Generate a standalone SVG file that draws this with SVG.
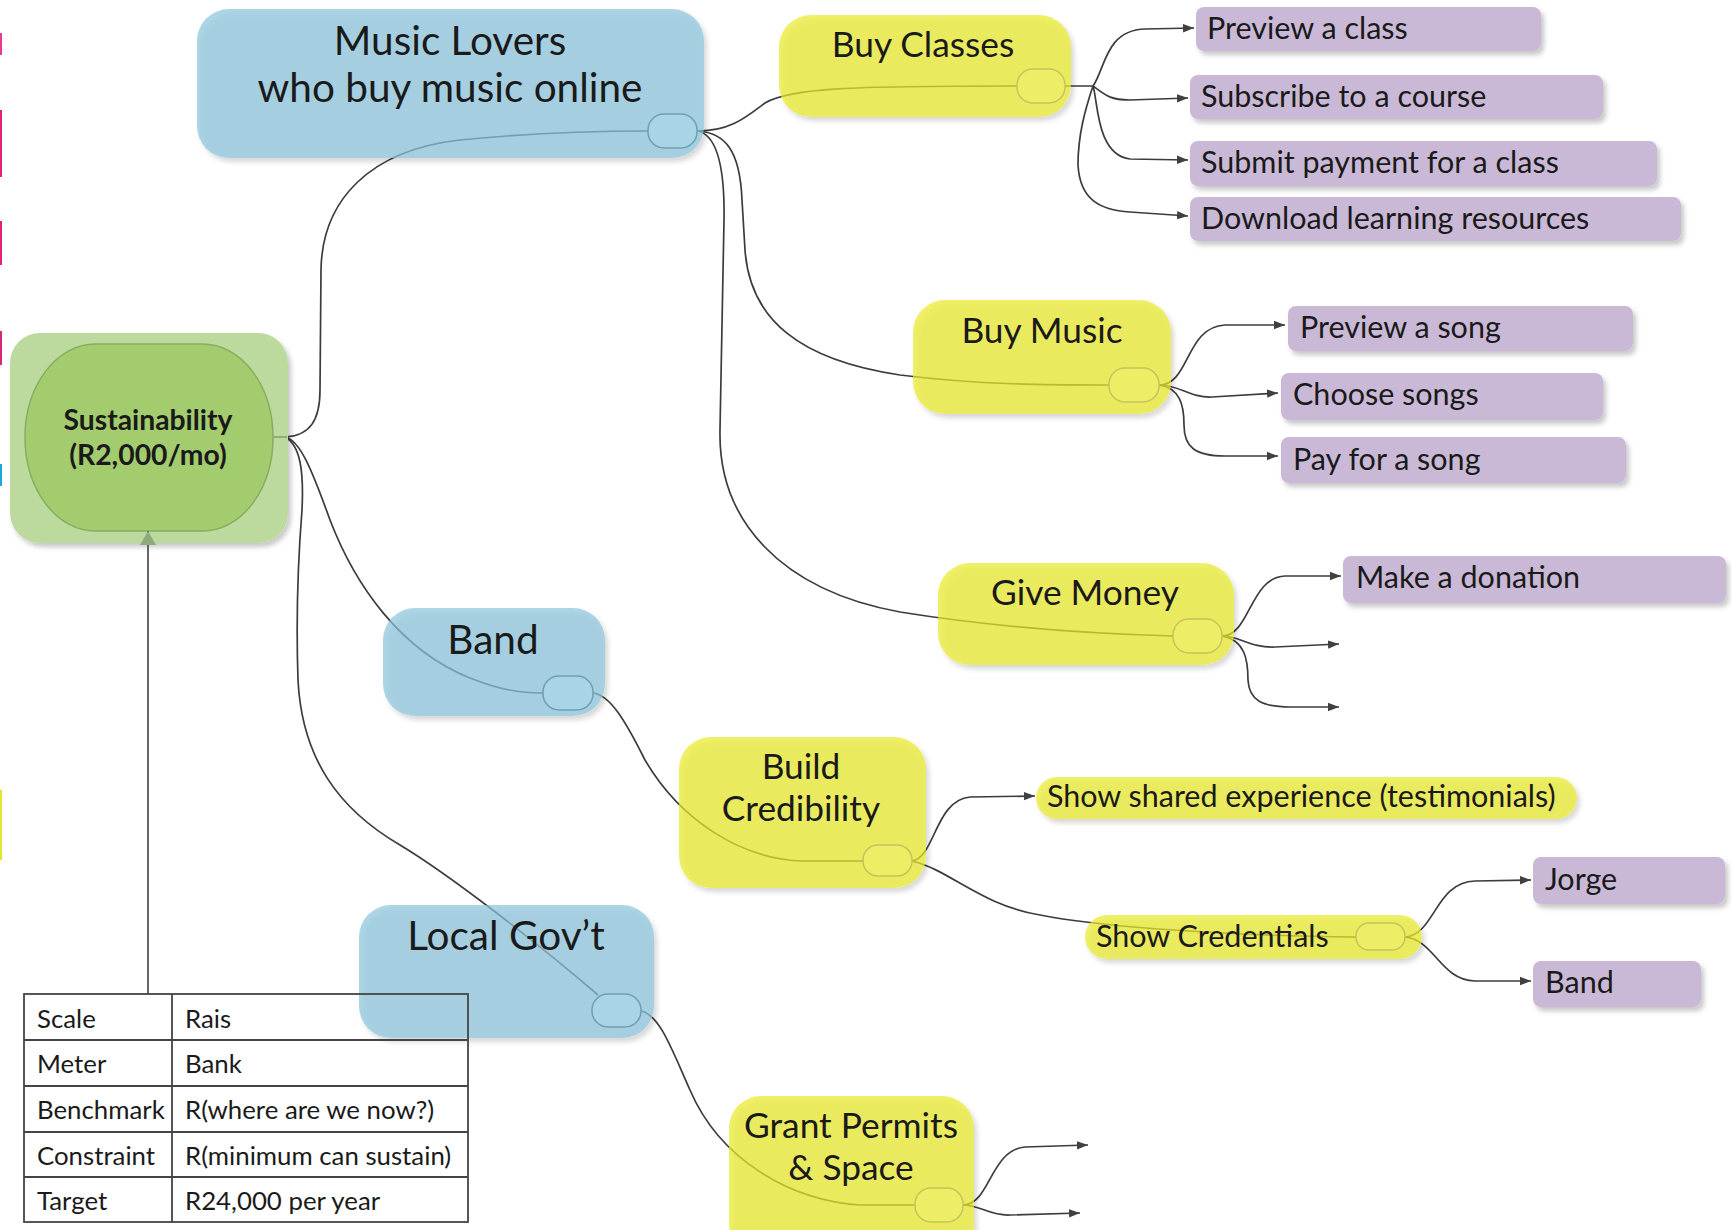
<svg xmlns="http://www.w3.org/2000/svg" width="1732" height="1230" viewBox="0 0 1732 1230">
<defs>
<filter id="sh" x="-10%" y="-10%" width="125%" height="130%">
<feDropShadow dx="3" dy="4" stdDeviation="2.5" flood-color="#000" flood-opacity="0.22"/>
</filter>
<marker id="ar" markerUnits="userSpaceOnUse" markerWidth="12" markerHeight="10" refX="11" refY="5" orient="auto">
<path d="M0,0.8 L11,5 L0,9.2 Z" fill="#404040"/>
</marker>
<marker id="arg" markerUnits="userSpaceOnUse" markerWidth="18" markerHeight="18" refX="14" refY="9" orient="auto">
<path d="M0,1 L14,9 L0,17 Z" fill="#8fab7c"/>
</marker>
<style>
.c{fill:none;stroke:#3c3c3c;stroke-width:1.7}
.blue{fill:#8ac5dc;fill-opacity:0.7}
.yel{fill:#eaea2a;fill-opacity:0.7}
.pur{fill:#c9b9d6}
.hb{fill:#a9d4e5;stroke:#6b9fb2;stroke-width:1.5}
.hy{fill:#eeee66;stroke:#c4c45a;stroke-width:1.5}
.t{font-family:Lato,"Liberation Sans",sans-serif;fill:#1a1a1a}
.tb{font-size:40.5px;text-anchor:middle}
.ty{font-size:35.3px;text-anchor:middle}
.tp{font-size:30.5px}
.tt{font-size:25.8px}
.grid{fill:none;stroke:#444;stroke-width:1.8}
</style>
</defs>
<rect width="1732" height="1230" fill="#fff"/>
<g id="edge-strips">
<rect x="0" y="33" width="2" height="22" fill="#e63b8f"/>
<rect x="0" y="110" width="2" height="67" fill="#e8207a"/>
<rect x="0" y="221" width="2" height="44" fill="#e8207a"/>
<rect x="0" y="331" width="2" height="34" fill="#d6287a"/>
<rect x="0" y="464" width="2" height="22" fill="#18a8dc"/>
<rect x="0" y="790" width="2" height="70" fill="#e0e430"/>
</g>

<g id="connectors">
<path class="c" d="M275,437 L285,437 C310,436 320,420 320,390 L321,270 C322,200 370,150 460,140 C530,133 600,131 648,131"/>
<path class="c" d="M285,437 C300,440 312,470 330,520 C355,585 400,650 470,678 C500,690 520,693 543,693"/>
<path class="c" d="M285,437 C300,445 304,470 302,510 C298,560 296,620 298,680 C302,760 340,810 400,845 C450,875 540,945 598,995"/>
<path class="c" d="M698,131 C730,131 745,118 765,103 C790,88 850,86 1017,86"/>
<path class="c" d="M698,131 C725,133 740,150 742,200 L745,250 C750,320 800,360 900,375 C980,385 1050,385 1109,385"/>
<path class="c" d="M698,131 C715,135 725,160 724,220 L720,430 C718,520 780,590 900,612 C1000,628 1100,634 1173,636"/>
<path class="c" d="M1065,86 L1093,86 C1105,70 1105,30 1145,29 L1194,28" marker-end="url(#ar)"/>
<path class="c" d="M1093,86 C1105,95 1110,100 1130,100 L1188,98" marker-end="url(#ar)"/>
<path class="c" d="M1093,86 C1098,100 1096,155 1130,159 L1188,160" marker-end="url(#ar)"/>
<path class="c" d="M1093,86 C1085,110 1078,135 1078,165 C1080,200 1100,210 1130,212 L1188,216" marker-end="url(#ar)"/>
<path class="c" d="M1159,385 C1190,385 1185,327 1225,325 L1285,325" marker-end="url(#ar)"/>
<path class="c" d="M1159,385 C1180,385 1190,398 1212,397 L1278,393" marker-end="url(#ar)"/>
<path class="c" d="M1159,385 C1180,388 1184,405 1184,425 C1184,447 1195,456 1225,456 L1278,456" marker-end="url(#ar)"/>
<path class="c" d="M1222,636 C1250,636 1250,577 1285,576 L1341,576" marker-end="url(#ar)"/>
<path class="c" d="M1222,636 C1240,636 1250,648 1275,647 L1339,644" marker-end="url(#ar)"/>
<path class="c" d="M1222,636 C1245,640 1248,660 1248,680 C1249,700 1262,707 1290,707 L1339,707" marker-end="url(#ar)"/>
<path class="c" d="M593,693 C610,695 625,720 645,760 C680,820 740,858 800,861 L863,861"/>
<path class="c" d="M912,861 C935,858 935,800 970,797 L1035,796" marker-end="url(#ar)"/>
<path class="c" d="M912,861 C950,870 980,905 1040,915 C1090,925 1200,935 1356,937"/>
<path class="c" d="M1405,937 C1435,935 1435,882 1475,881 L1531,880" marker-end="url(#ar)"/>
<path class="c" d="M1405,937 C1435,940 1440,980 1475,981 L1531,981" marker-end="url(#ar)"/>
<path class="c" d="M641,1011 C660,1015 672,1050 690,1090 C720,1160 790,1200 860,1205 L915,1205"/>
<path class="c" d="M963,1205 C990,1205 990,1150 1025,1147 L1088,1145" marker-end="url(#ar)"/>
<path class="c" d="M963,1205 C980,1205 990,1216 1010,1215 L1080,1213" marker-end="url(#ar)"/>
</g>

<g id="sustainability">
<rect x="10" y="333" width="278" height="210" rx="30" fill="#bcda9e" filter="url(#sh)"/>
<rect x="25" y="344" width="248" height="187" rx="70" ry="95" fill="#a2cc6e" stroke="#87ad60" stroke-width="1.5"/>
<path d="M273,437 L287,437" stroke="#8fab7c" stroke-width="2"/>
<text class="t" x="148" y="430" font-size="28.3" font-weight="bold" text-anchor="middle" fill="#1e2412">Sustainability</text>
<text class="t" x="148" y="465" font-size="28.3" font-weight="bold" text-anchor="middle" fill="#1e2412">(R2,000/mo)</text>
</g>

<g id="music-lovers">
<rect class="blue" x="197" y="9" width="507" height="149" rx="32" filter="url(#sh)"/>
<text class="t tb" x="450" y="55">Music Lovers</text>
<text class="t tb" x="450" y="102">who buy music online</text>
<rect class="hb" x="648" y="114" width="49" height="34" rx="16"/>
</g>

<g id="buy-classes">
<rect class="yel" x="779" y="15" width="292" height="102" rx="32" filter="url(#sh)"/>
<text class="t ty" x="923" y="57">Buy Classes</text>
<rect class="hy" x="1017" y="69" width="48" height="34" rx="16"/>
</g>

<g id="preview-class"><rect class="pur" x="1196" y="7" width="345" height="44" rx="8" filter="url(#sh)"/><text class="t tp" x="1207" y="39">Preview a class</text></g>
<g id="subscribe"><rect class="pur" x="1190" y="75" width="413" height="44" rx="8" filter="url(#sh)"/><text class="t tp" x="1201" y="107">Subscribe to a course</text></g>
<g id="submit-payment"><rect class="pur" x="1190" y="141" width="467" height="45" rx="8" filter="url(#sh)"/><text class="t tp" x="1201" y="173">Submit payment for a class</text></g>
<g id="download"><rect class="pur" x="1190" y="197" width="491" height="44" rx="8" filter="url(#sh)"/><text class="t tp" x="1201" y="229">Download learning resources</text></g>

<g id="buy-music">
<rect class="yel" x="913" y="300" width="258" height="114" rx="32" filter="url(#sh)"/>
<text class="t ty" x="1042" y="343">Buy Music</text>
<rect class="hy" x="1109" y="368" width="50" height="34" rx="16"/>
</g>

<g id="preview-song"><rect class="pur" x="1288" y="306" width="345" height="45" rx="8" filter="url(#sh)"/><text class="t tp" x="1300" y="338">Preview a song</text></g>
<g id="choose-songs"><rect class="pur" x="1281" y="373" width="322" height="47" rx="8" filter="url(#sh)"/><text class="t tp" x="1293" y="405">Choose songs</text></g>
<g id="pay-song"><rect class="pur" x="1281" y="437" width="345" height="46" rx="8" filter="url(#sh)"/><text class="t tp" x="1293" y="470">Pay for a song</text></g>

<g id="give-money">
<rect class="yel" x="938" y="563" width="296" height="102" rx="32" filter="url(#sh)"/>
<text class="t ty" x="1085" y="605">Give Money</text>
<rect class="hy" x="1173" y="619" width="49" height="34" rx="16"/>
</g>

<g id="donation"><rect class="pur" x="1343" y="556" width="383" height="47" rx="8" filter="url(#sh)"/><text class="t tp" x="1356" y="588">Make a donation</text></g>

<g id="band">
<rect class="blue" x="383" y="608" width="222" height="108" rx="32" filter="url(#sh)"/>
<text class="t tb" x="493" y="654">Band</text>
<rect class="hb" x="543" y="676" width="50" height="34" rx="16"/>
</g>

<g id="build-credibility">
<rect class="yel" x="679" y="737" width="247" height="151" rx="32" filter="url(#sh)"/>
<text class="t ty" x="801" y="779">Build</text>
<text class="t ty" x="801" y="821">Credibility</text>
<rect class="hy" x="863" y="845" width="49" height="31" rx="15"/>
</g>

<g id="show-shared"><rect class="yel" x="1036" y="777" width="541" height="42" rx="21" filter="url(#sh)"/><text class="t tp" x="1047" y="807" font-size="31">Show shared experience (testimonials)</text></g>

<g id="show-credentials">
<rect class="yel" x="1085" y="915" width="337" height="44" rx="22" filter="url(#sh)"/>
<text class="t tp" x="1096" y="947">Show Credentials</text>
<rect class="hy" x="1356" y="923" width="49" height="27" rx="13"/>
</g>

<g id="jorge"><rect class="pur" x="1533" y="857" width="192" height="47" rx="8" filter="url(#sh)"/><text class="t tp" x="1545" y="890">Jorge</text></g>
<g id="band-cred"><rect class="pur" x="1533" y="961" width="168" height="46" rx="8" filter="url(#sh)"/><text class="t tp" x="1545" y="993">Band</text></g>

<g id="local-govt">
<rect class="blue" x="359" y="905" width="295" height="133" rx="32" filter="url(#sh)"/>
<text class="t tb" x="506" y="950">Local Gov’t</text>
<rect class="hb" x="592" y="994" width="49" height="33" rx="16"/>
</g>

<g id="grant-permits">
<rect class="yel" x="729" y="1096" width="245" height="160" rx="32" filter="url(#sh)"/>
<text class="t ty" x="851" y="1138">Grant Permits</text>
<text class="t ty" x="851" y="1180">&amp; Space</text>
<rect class="hy" x="915" y="1188" width="48" height="34" rx="16"/>
</g>

<g id="table">
<path d="M148,994 L148,531" fill="none" stroke="#555" stroke-width="1.8" marker-end="url(#arg)"/>
<rect class="grid" x="24" y="994" width="444" height="228"/>
<path class="grid" d="M24,1040 H468 M24,1086 H468 M24,1132 H468 M24,1177 H468 M172,994 V1222"/>
<g class="t tt">
<text x="37" y="1028">Scale</text><text x="185" y="1028">Rais</text>
<text x="37" y="1073">Meter</text><text x="185" y="1073">Bank</text>
<text x="37" y="1119">Benchmark</text><text x="185" y="1119">R(where are we now?)</text>
<text x="37" y="1165">Constraint</text><text x="185" y="1165">R(minimum can sustain)</text>
<text x="37" y="1210">Target</text><text x="185" y="1210">R24,000 per year</text>
</g>
</g>
</svg>
